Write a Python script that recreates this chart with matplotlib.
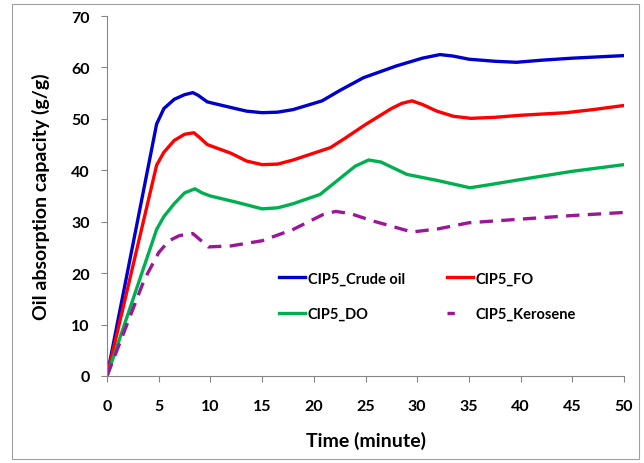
import matplotlib.pyplot as plt
from matplotlib.patches import Rectangle
from matplotlib.lines import Line2D

# values
crude_x = [0, 4.8, 5.5, 6.5, 7.5, 8.3, 8.8, 9.7, 12, 13.5, 15, 16.5, 18, 20.8, 22.5, 24.8, 28, 30.5, 32.2,
           33.5, 35, 37.5, 39.6, 42, 45, 50]
crude_y = [0, 49, 52, 53.8, 54.7, 55.1, 54.6, 53.3, 52.2, 51.5, 51.2, 51.3, 51.8, 53.5, 55.5, 58, 60.3, 61.8, 62.5,
           62.2, 61.6, 61.2, 61, 61.4, 61.8, 62.3]

fo_x = [0, 4.8, 5.5, 6.5, 7.5, 8.4, 9, 9.7, 12, 13.5, 15, 16.5, 18, 21.6, 23, 25, 27.5, 28.5, 29.5, 30.5,
        31.9, 33.5, 35.2, 37.5, 40, 44.4, 47, 50]
fo_y = [0, 41, 43.5, 45.8, 47, 47.3, 46.3, 45, 43.3, 41.8, 41.1, 41.2, 42, 44.4, 46.2, 48.9, 52, 53, 53.5, 52.8,
        51.5, 50.5, 50.1, 50.3, 50.7, 51.2, 51.8, 52.6]

do_x = [0, 4.8, 5.5, 6.5, 7.5, 8.5, 9.2, 10, 12.5, 15, 16.5, 18, 20.6, 22.4, 24, 25.3, 26.5, 29, 32, 35.1,
        37, 40, 45, 50]
do_y = [0, 28.5, 31, 33.5, 35.6, 36.4, 35.6, 35, 33.8, 32.5, 32.7, 33.5, 35.3, 38.2, 40.8, 42, 41.6, 39.2, 38, 36.6,
        37.2, 38.2, 39.8, 41.1]

ker_x = [0, 3.6, 5, 6, 7, 8.3, 9, 9.8, 12, 15, 18, 20.9, 22.1, 23.5, 25.8, 29.5, 32, 35, 40, 45, 50]
ker_y = [0, 18.7, 24, 26.3, 27.3, 27.7, 26.5, 25.1, 25.3, 26.3, 28.5, 31.4, 32, 31.6, 30.1, 28, 28.6, 29.8, 30.5, 31.2, 31.8]

labels = ['CIP5_Crude oil', 'CIP5_FO', 'CIP5_DO', 'CIP5_Kerosene']
colors = ['#0000cc', '#ff0000', '#00b050', '#9c1797']

plt.rcParams['font.family'] = ['Lato', 'DejaVu Sans']
plt.rcParams['font.weight'] = 'bold'

fig = plt.figure(figsize=(6.44, 4.64), dpi=100)
fig.patches.append(Rectangle((12/644, 1 - 460/464), 627/644, 455/464, transform=fig.transFigure,
                             fill=False, edgecolor='#a0a0a0', lw=0.8))
ax = fig.add_axes([107/644, 1 - 377/464, 517/644, 360/464])

l1, = ax.plot(crude_x, crude_y, color=colors[0], lw=2.4)
l2, = ax.plot(fo_x, fo_y, color=colors[1], lw=2.4)
l3, = ax.plot(do_x, do_y, color=colors[2], lw=2.4)
l4, = ax.plot(ker_x, ker_y, color=colors[3], lw=2.4, ls=(0, (4, 2.5)))

ax.set_xlim(0, 50)
ax.set_ylim(0, 70)
ax.set_xticks(range(0, 51, 5))
ax.set_yticks(range(0, 71, 10))
for s in ['top', 'right']:
    ax.spines[s].set_visible(False)
for s in ['left', 'bottom']:
    ax.spines[s].set_color('#868686')
ax.tick_params(axis='both', direction='out', length=4.5, color='#868686', labelsize=11.5)
ax.tick_params(axis='x', pad=12)
ax.tick_params(axis='y', pad=8)
for t in ax.get_xticklabels() + ax.get_yticklabels():
    t.set_fontweight('bold')

ax.set_xlabel('Time (minute)', fontsize=14, fontweight='bold', labelpad=13)
ax.set_ylabel('Oil absorption capacity (g/g)', fontsize=14, fontweight='bold', labelpad=15)

# kerosene legend key shows a single short dash
ker_key = Line2D([], [], color=colors[3], lw=2.4, ls=(0, (2.2, 20)))
ax.legend([l1, l3, l2, ker_key], [labels[0], labels[2], labels[1], labels[3]],
          loc='upper left', bbox_to_anchor=(0.333, 0.29), ncol=2, frameon=False,
          borderpad=0, borderaxespad=0,
          prop={'weight': 'bold', 'size': 10.5}, handlelength=1.8, handletextpad=0.15,
          columnspacing=2.9, labelspacing=1.45)

fig.savefig('out.png', dpi=100)
